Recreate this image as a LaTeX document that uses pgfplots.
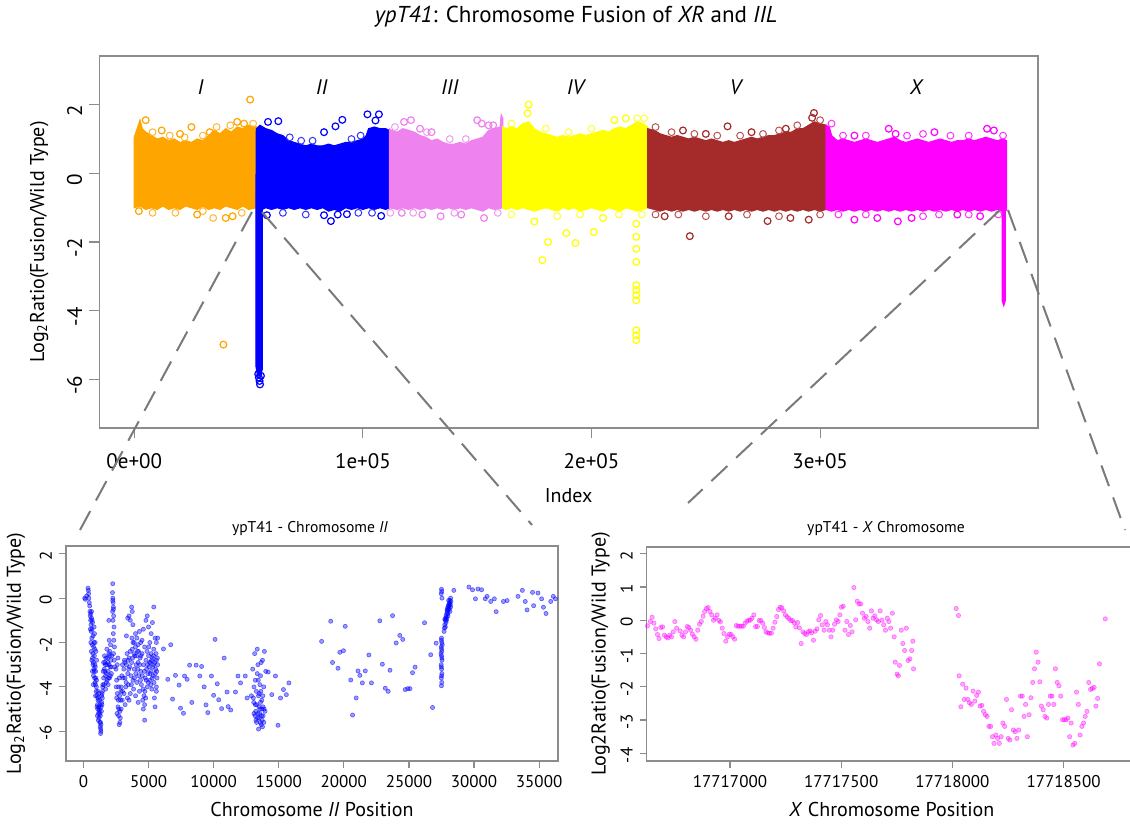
\documentclass[border=0pt]{standalone}
\usepackage{fontspec}
\setmainfont{PT Sans}
\usepackage{pgfplots}
\usepackage{pgfplotstable}
\pgfplotsset{compat=1.18}

\definecolor{rorange}{HTML}{FFA500}
\definecolor{rviolet}{HTML}{EE82EE}
\definecolor{rbrown}{HTML}{A52A2A}
\definecolor{ryellow}{HTML}{FFFF00}
\definecolor{rblue}{HTML}{0000FF}
\definecolor{rmagenta}{HTML}{FF00FF}
\definecolor{framegray}{HTML}{8C8C8C}
\definecolor{zoomgray}{HTML}{7A7A7A}

% chromosome II close-up (position, log2 ratio)
\pgfplotstableread{
x y
100 0.0
150 -0.05
250 0.1
350 0.45
380 0.35
400 0.2
420 0.0
450 -0.2
480 -0.35
500 -0.6
520 -0.8
550 -1.0
560 -0.7
580 -1.2
600 -1.5
620 -0.9
640 -1.8
650 -1.4
680 -2.1
700 -1.1
720 -2.5
740 -1.7
760 -2.9
780 -2.2
800 -3.2
820 -1.3
840 -2.6
860 -3.6
880 -3.0
900 -2.0
920 -3.9
940 -3.3
960 -2.4
980 -4.2
1000 -3.7
1010 -2.8
530 -1.4
570 -2.0
610 -2.4
650 -2.8
690 -3.3
730 -3.0
770 -3.5
810 -2.0
850 -1.6
890 -3.8
930 -4.4
620 -0.6
660 -1.0
700 -2.7
760 -3.9
830 -3.3
870 -2.3
910 -3.1
950 -3.6
990 -4.0
1050 -4.4
1080 -4.8
1100 -5.0
1120 -4.6
1150 -5.2
1180 -4.9
1200 -5.4
1230 -5.0
1250 -5.6
1280 -5.8
1300 -5.3
1320 -6.1
1350 -5.7
1380 -5.1
1400 -4.7
1430 -4.3
1450 -4.5
1480 -4.0
1100 -4.2
1260 -4.8
1330 -5.9
1040 -4.9
1070 -5.3
1110 -4.5
1140 -5.5
1170 -4.3
1210 -5.1
1240 -4.6
1270 -5.2
1310 -5.6
1340 -6.0
1360 -4.9
1390 -4.4
1420 -4.8
1460 -4.2
1490 -3.9
1550 -3.6
1600 -3.2
1650 -2.9
1700 -3.5
1750 -3.8
1800 -3.0
1850 -2.7
1900 -3.3
1950 -2.5
2000 -3.6
2050 -3.1
2100 -2.8
1700 -4.1
1800 -2.3
1900 -3.9
2000 -2.6
1950 -1.0
1650 -3.3
2150 -3.4
1550 -2.9
2080 -2.1
1980 -1.9
1520 -3.3
1580 -3.9
1620 -2.6
1680 -3.0
1720 -2.7
1780 -3.4
1820 -3.7
1880 -2.9
1920 -3.6
1970 -3.0
2020 -2.4
2070 -3.5
2120 -3.1
2180 -2.6
2250 0.65
2230 0.25
2260 0.0
2280 -0.2
2300 -0.4
2240 -0.6
2320 -0.8
2270 -1.0
2350 -1.3
2290 -1.6
2330 -1.9
2380 -2.2
2310 -2.5
2360 -2.8
2400 -3.1
2250 -0.1
2300 -0.5
2500 -3.2
2550 -3.7
2600 -4.3
2650 -4.9
2700 -5.3
2750 -5.7
2800 -5.1
2850 -4.6
2900 -4.0
2950 -3.5
3000 -3.0
2600 -3.0
2700 -4.0
2800 -5.6
2550 -4.5
2900 -5.0
2750 -3.6
2650 -2.7
2520 -4.0
2580 -5.2
2680 -4.6
2720 -5.0
2780 -4.4
2830 -5.4
2880 -4.2
2980 -4.6
3300 -1.7
3400 -0.9
3500 -0.8
3600 -1.0
3700 -0.4
3750 -0.6
3800 -1.2
3900 -2.0
4000 -1.6
4100 -1.8
4200 -2.1
4300 -1.5
4500 -1.9
4600 -1.4
4700 -2.2
4800 -1.0
4900 -0.8
5000 -1.3
5100 -2.0
5200 -1.6
5300 -1.1
5400 -0.4
5500 -1.8
5600 -2.0
5700 -1.8
3100 -3.2
3150 -2.8
3200 -3.6
3250 -4.0
3300 -3.0
3350 -2.5
3400 -3.4
3450 -3.9
3500 -2.7
3550 -3.1
3600 -4.3
3650 -3.5
3700 -2.9
3750 -2.3
3800 -3.7
3850 -4.1
3900 -3.2
3950 -2.6
4000 -2.2
4050 -3.0
4100 -3.8
4150 -2.4
4200 -2.9
4250 -3.5
4300 -4.2
4350 -2.7
4400 -3.3
4450 -3.9
4500 -2.5
4550 -4.6
4600 -5.0
4650 -4.4
4700 -5.5
4750 -3.6
4800 -2.8
4850 -3.2
4900 -4.0
4950 -3.4
5000 -2.6
5050 -3.1
5100 -3.7
5150 -2.9
5200 -3.3
5250 -4.1
5300 -2.7
5350 -3.5
5400 -3.0
5450 -4.5
5500 -4.9
5550 -3.2
5600 -2.8
5650 -3.6
5700 -3.0
5600 -4.2
5400 -2.3
5200 -2.5
4000 -4.4
3500 -4.6
3200 -4.8
3000 -4.2
4200 -4.7
4700 -4.8
5600 -4.0
3800 -2.0
4400 -2.0
3050 -3.6
3120 -4.3
3180 -2.9
3280 -3.8
3380 -4.5
3420 -2.8
3480 -3.2
3580 -2.4
3680 -3.9
3720 -1.8
3780 -2.7
3880 -2.5
3920 -3.6
4020 -3.4
4080 -2.6
4180 -3.2
4230 -2.4
4320 -3.0
4380 -3.7
4420 -2.6
4520 -3.5
4580 -4.1
4620 -3.0
4680 -3.3
4720 -4.2
4780 -4.5
4820 -3.7
4880 -2.4
4920 -3.0
4980 -3.8
5020 -2.2
5080 -2.9
5120 -3.4
5180 -3.9
5230 -2.8
5280 -3.6
5320 -3.1
5380 -2.6
5420 -3.8
5480 -2.9
5520 -3.4
5580 -2.5
5620 -3.3
5680 -2.7
6145 -2.29
6480 -3.66
6703 -2.10
6843 -4.55
7066 -3.48
7346 -3.92
7457 -4.96
7680 -5.19
7765 -3.51
7960 -3.66
8155 -3.02
8323 -4.70
8658 -3.02
8937 -3.51
9077 -3.08
9273 -4.00
9412 -4.81
9552 -5.16
9831 -3.51
10110 -1.86
9999 -4.38
10278 -3.86
10390 -4.58
10613 -4.98
10809 -2.70
11032 -4.23
11116 -4.89
11311 -5.04
11675 -4.23
11870 -3.51
12066 -3.82
12429 -3.51
12569 -4.50
14468 -4.35
14747 -3.51
14943 -5.73
15138 -4.50
15362 -4.12
15585 -4.35
15781 -3.82
14188 -3.33
13000 -3.2
13050 -4.5
13100 -5.2
13150 -2.5
13200 -3.7
13250 -5.5
13300 -4.8
13350 -2.3
13400 -3.0
13450 -5.9
13500 -4.3
13550 -5.0
13600 -3.5
13650 -5.7
13700 -4.6
13750 -2.8
13800 -5.3
13850 -4.0
13900 -2.4
13950 -5.1
13100 -4.0
13300 -5.6
13500 -5.4
13700 -5.0
13200 -4.8
13400 -5.2
13600 -4.7
13800 -4.9
13350 -3.4
13550 -3.9
14000 -3.3
13650 -2.9
12900 -4.4
13750 -5.8
13450 -4.4
13850 -5.6
13080 -4.7
13180 -5.3
13280 -4.2
13380 -5.4
13480 -4.9
13580 -5.6
13680 -5.3
13780 -4.4
13880 -5.0
13230 -5.1
13530 -5.2
13730 -5.5
13630 -4.2
13430 -3.7
18294 -1.95
18993 -1.04
19132 -2.90
19551 -3.16
19691 -2.44
19970 -2.37
20110 -1.27
20529 -3.69
20669 -5.27
20948 -4.50
21088 -3.28
21228 -3.48
21423 -3.82
21646 -3.28
21925 -2.56
22121 -3.82
22763 -1.02
22959 -2.98
23182 -4.06
23405 -4.20
23545 -3.25
23741 -0.79
24020 -2.02
24299 -1.68
24523 -1.86
24718 -4.12
24914 -4.08
25081 -4.08
25277 -3.36
25473 -3.11
26199 -1.11
26673 -2.55
26813 -4.93
27092 -2.03
27500 0.4
27520 0.3
27480 0.2
27540 0.0
27500 -1.8
27530 -2.0
27480 -2.2
27520 -2.4
27500 -2.6
27540 -2.8
27480 -3.0
27510 -3.2
27530 -3.4
27490 -3.6
27520 -3.8
27500 -3.95
27560 -2.1
27460 -2.5
27490 -1.9
27510 -2.3
27530 -2.7
27490 -3.1
27510 -3.5
27700 -1.5
27750 -1.2
27800 -1.0
27850 -0.8
27900 -0.9
27950 -0.6
28000 -0.5
28050 -0.3
28100 -0.2
28150 -0.1
28200 0.0
27800 -1.3
27900 -0.7
28000 -0.8
28100 -0.5
28200 -0.4
27750 -0.95
28050 -0.1
28150 -0.6
27850 -1.1
27950 -0.45
27730 -1.35
27830 -0.9
27930 -0.55
28030 -0.35
28130 -0.25
28230 -0.15
27880 -1.0
27980 -0.7
28080 -0.4
28180 -0.3
28450 0.35
29606 0.50
29885 0.38
30108 -0.03
30304 0.41
30583 0.38
30862 -0.03
31002 0.08
31281 -0.15
31560 -0.03
31700 -0.61
32259 -0.15
32538 -0.11
33376 0.08
33711 0.35
33934 -0.15
34074 -0.53
34493 0.26
34577 -0.34
34912 0.23
35191 -0.03
35331 -0.41
35527 -0.69
35890 -0.15
36085 0.08
36253 -0.03
}\chrII

% X chromosome close-up (position - 17716000, log2 ratio)
\pgfplotstableread{
x y
629 -0.17
642 -0.04
650 0.09
658 -0.09
666 -0.26
674 -0.43
681 -0.55
689 -0.22
697 -0.20
705 -0.45
713 -0.50
721 -0.53
729 -0.45
737 -0.50
745 -0.35
752 -0.04
760 -0.24
776 -0.32
784 -0.45
792 -0.50
800 -0.35
808 -0.19
815 -0.22
823 -0.30
831 -0.42
839 -0.50
847 -0.57
855 -0.30
863 -0.12
871 -0.04
879 0.12
886 0.26
894 0.35
902 0.38
910 0.26
918 0.16
926 0.00
934 0.06
942 0.16
950 -0.01
957 -0.05
965 -0.24
973 -0.40
981 -0.63
989 -0.50
997 -0.42
1005 -0.43
1013 -0.50
1021 -0.57
1028 -0.16
1036 -0.18
1044 -0.18
1052 -0.18
1060 -0.18
1068 -0.09
1076 -0.03
1084 0.00
1091 0.00
1099 0.06
1107 0.16
1115 -0.19
1123 -0.19
1131 -0.01
1139 -0.01
1147 -0.09
1155 -0.22
1162 -0.35
1170 -0.38
1178 -0.39
1186 -0.39
1194 -0.24
1202 -0.06
1210 0.11
1218 0.32
1226 0.39
1233 0.37
1241 0.28
1249 0.16
1257 0.10
1265 0.05
1273 -0.01
1281 -0.01
1289 -0.08
1296 -0.20
1304 -0.07
1312 -0.23
1320 -0.70
1328 -0.35
1336 -0.40
1344 -0.43
1352 -0.35
1360 -0.32
1367 -0.38
1375 -0.60
1383 -0.33
1391 -0.26
1399 0.01
1407 0.14
1415 -0.14
1423 -0.30
1431 -0.04
1438 -0.14
1446 -0.30
1454 -0.50
1462 -0.30
1470 -0.12
1478 0.01
1486 -0.04
1494 0.16
1501 0.39
1509 0.42
1517 -0.30
1525 -0.04
1533 -0.43
1541 -0.16
1549 -0.35
1557 0.98
1565 0.01
1572 0.57
1580 0.49
1588 0.49
1596 0.21
1604 0.06
1612 0.11
1620 -0.04
1628 -0.24
1636 0.28
1643 0.06
1651 0.13
1659 0.01
1667 -0.04
1675 0.28
1683 0.00
1691 -0.14
1699 -0.30
1707 0.06
1714 -0.04
1722 -0.24
1730 0.21
1738 -0.50
1743 -1.26
1751 -1.62
1757 -1.67
1762 -1.36
1770 -0.30
1777 -0.70
1785 -0.91
1793 -0.24
1801 -1.21
1809 -1.16
1817 -0.91
1825 -1.46
1822 -0.63
2017 0.35
2027 0.14
2030 -1.67
2038 -2.60
2046 -1.92
2053 -2.38
2061 -2.04
2069 -2.38
2077 -2.48
2085 -2.53
2093 -2.13
2101 -2.43
2109 -2.26
2117 -2.16
2124 -2.58
2132 -2.56
2140 -2.74
2148 -2.84
2156 -2.89
2164 -3.19
2172 -3.19
2180 -3.50
2187 -3.70
2195 -3.45
2203 -3.55
2211 -3.70
2219 -3.50
2227 -3.09
2235 -3.19
2243 -2.38
2251 -3.55
2258 -3.60
2266 -2.69
2274 -3.30
2282 -3.35
2290 -3.55
2298 -3.30
2306 -2.28
2314 -2.28
2322 -2.89
2329 -2.53
2337 -3.50
2345 -2.84
2353 -2.33
2361 -1.87
2369 -1.46
2377 -0.96
2385 -1.26
2393 -1.85
2400 -2.58
2408 -2.69
2416 -2.89
2424 -2.94
2432 -2.53
2440 -2.28
2448 -2.28
2456 -2.53
2463 -1.46
2471 -1.87
2479 -1.97
2487 -2.28
2495 -2.99
2503 -2.99
2511 -2.99
2519 -2.94
2527 -3.50
2534 -3.09
2542 -3.75
2550 -3.70
2558 -2.16
2566 -2.53
2574 -3.45
2582 -3.19
2590 -3.09
2597 -2.89
2605 -2.74
2613 -1.87
2621 -2.08
2629 -2.05
2637 -2.02
2645 -2.58
2653 -2.35
2661 -1.31
2687 0.04
}\chrX

\pgfplotsset{
  rstyle/.style={
    scale only axis, anchor=south west,
    axis line style={framegray, line width=0.6pt},
    tick style={framegray, line width=0.6pt},
    tick align=outside, tick pos=left, major tick length=3.5pt,
    scaled ticks=false,
    /pgf/number format/assume math mode=true,
    /pgf/number format/1000 sep={},
    yticklabel style={rotate=90, anchor=south},
  },
  outl/.style={only marks, mark=o, mark size=1.7pt, line width=0.6pt},
  edge/.style={only marks, mark=o, mark size=1.7pt, line width=0.5pt},
}

\begin{document}
\begin{tikzpicture}
\useasboundingbox (0,0) rectangle (565pt,412pt);

% ---------------- genome-wide plot ----------------
\begin{axis}[rstyle,
  at={(49.65pt,198pt)}, width=469.35pt, height=186pt,
  axis line style={framegray, line width=0.8pt},
  xmin=-15300, xmax=395300, ymin=-7.42, ymax=3.42,
  xtick={0,100000,200000,300000},
  xticklabels={0e+00,1e+05,2e+05,3e+05},
  ytick={-6,-4,-2,0,2},
  major tick length=5pt,
  tick label style={font=\fontsize{10.5}{12}\selectfont},
  xticklabel style={yshift=-4pt},
  yticklabel style={xshift=-3pt},
  xlabel={Index}, ylabel={Log\textsubscript{2}Ratio(Fusion/Wild Type)},
  label style={font=\fontsize{11}{13}\selectfont},
  every axis x label/.style={at={(axis description cs:0.5,0)}, anchor=center, yshift=-34pt},
  every axis y label/.style={at={(axis description cs:-0.064,0.5)}, anchor=center, rotate=90},
]
\addplot[fill=rorange, draw=rorange, line width=0.6pt] coordinates {
(0,1.05) (1500,1.35) (2500,1.55) (3500,1.3) (5000,1.2) (7500,1.1) (10000,1.0) (12500,1.05) (15000,0.95) (17500,1.0) (20000,0.9) (22500,0.95) (25000,0.9) (27500,1.0) (30000,0.95) (32500,1.1) (35000,1.25) (37500,1.15) (40000,1.3) (42500,1.2) (45000,1.35) (47500,1.3) (50000,1.4) (53600,1.35)
(53600,-1.0) (50000,-1.05) (47500,-0.95) (45000,-1.05) (42500,-1.0) (40000,-0.95) (37500,-1.05) (35000,-1.0) (32500,-1.05) (30000,-0.95) (27500,-1.05) (25000,-1.0) (22500,-0.95) (20000,-1.05) (17500,-1.0) (15000,-1.05) (12500,-0.95) (10000,-1.05) (7500,-1.0) (5000,-1.05) (2500,-0.95) (0,-1.0)} -- cycle;
\addplot[edge, rorange!80] coordinates {(8000,1.2) (15500,1.1) (22000,1.05) (30000,1.1) (36000,1.35) (42000,1.4) (52000,1.45) (8000,-1.15) (18000,-1.15) (30000,-1.1) (47000,-1.15) (34500,-1.3)};
\addplot[outl, rorange] coordinates {(50700,2.15) (39000,-4.99) (43000,-1.25) (40000,-1.3) (27500,-1.2) (2000,-1.1) (5000,1.55) (48000,1.45) (45000,1.5) (25000,1.35) (33000,1.2) (12000,1.25) (20000,1.15)};

\addplot[fill=rblue, draw=rblue, line width=0.6pt] coordinates {
(53400,1.3) (55000,1.4) (57500,1.3) (60000,1.25) (62500,1.15) (65000,1.1) (67500,0.95) (70000,0.9) (72500,0.85) (75000,0.8) (77500,0.85) (80000,0.8) (82500,0.8) (85000,0.85) (87500,0.8) (90000,0.85) (92500,0.9) (95000,0.9) (97500,0.95) (100000,1.0) (101500,1.1) (102500,1.3) (105000,1.35) (107500,1.3) (110000,1.3) (111600,1.25)
(111600,-1.0) (110000,-1.05) (107500,-1.0) (105000,-1.05) (102500,-1.0) (100000,-1.05) (97500,-1.0) (95000,-1.05) (92500,-1.0) (90000,-1.1) (87500,-1.05) (85000,-1.1) (82500,-1.0) (80000,-1.05) (77500,-1.0) (75000,-1.05) (72500,-1.0) (70000,-1.05) (67500,-1.0) (65000,-1.05) (62500,-1.0) (60000,-1.05) (57500,-1.0) (56000,-1.05)
(56000,-5.7) (55400,-5.85) (54600,-5.9) (53800,-5.85) (53200,-5.6) (53200,-1.0)} -- cycle;
\addplot[edge, rblue!80] coordinates {(68000,1.05) (73000,0.95) (78000,0.95) (95000,1.0) (99000,1.1) (65000,-1.15) (75000,-1.2) (98000,-1.15) (104000,-1.15)};
\addplot[outl, rblue] coordinates {(91000,1.56) (88000,1.37) (83000,1.2) (63000,1.52) (58500,1.5) (102000,1.72) (107000,1.72) (105500,1.54) (86000,-1.39) (83000,-1.22) (89000,-1.2) (93000,-1.19) (108000,-1.24) (58000,-1.22) (54500,-5.95) (54800,-6.05) (55000,-6.15) (55400,-5.9) (54200,-5.85)};

\addplot[fill=rviolet, draw=rviolet, line width=0.6pt] coordinates {
(111600,1.3) (112500,1.25) (115000,1.2) (117500,1.3) (120000,1.25) (122500,1.2) (125000,1.1) (127500,1.05) (130000,0.95) (132500,1.0) (135000,0.9) (137500,0.85) (140000,0.85) (142500,0.9) (145000,0.85) (147500,0.95) (150000,1.0) (152500,1.05) (155000,1.25) (157500,1.3) (160000,1.35) (160500,1.7) (161200,1.6)
(161200,-1.0) (157500,-1.05) (155000,-1.0) (152500,-1.1) (150000,-1.05) (147500,-1.0) (145000,-1.05) (142500,-1.0) (140000,-1.05) (137500,-1.0) (135000,-1.05) (132500,-1.0) (130000,-1.05) (127500,-1.0) (125000,-1.05) (122500,-1.0) (120000,-1.05) (117500,-1.0) (115000,-1.05) (111600,-1.0)} -- cycle;
\addplot[edge, rviolet!80] coordinates {(114000,1.35) (128000,1.2) (138000,1.0) (145000,1.0) (112000,-1.15) (122000,-1.15) (140000,-1.15) (159000,-1.15)};
\addplot[outl, rviolet] coordinates {(118000,1.5) (121000,1.55) (125000,1.3) (130000,1.2) (150000,1.55) (152000,1.45) (155000,1.4) (157000,1.4) (153000,-1.3) (143000,-1.2) (134000,-1.25) (126000,-1.2) (117000,-1.15)};

\addplot[fill=ryellow, draw=ryellow, line width=0.6pt] coordinates {
(161200,1.35) (162500,1.3) (165000,1.35) (167500,1.3) (170000,1.45) (172500,1.5) (175000,1.3) (177500,1.2) (180000,1.15) (182500,1.1) (185000,1.05) (187500,1.1) (190000,1.05) (192500,1.1) (195000,1.15) (197500,1.1) (200000,1.15) (202500,1.2) (205000,1.25) (207500,1.2) (210000,1.3) (212500,1.35) (215000,1.3) (217500,1.4) (220000,1.5) (222500,1.45) (224600,1.35)
(224600,-1.0) (222500,-1.05) (220000,-1.1) (217500,-1.05) (215000,-1.0) (212500,-1.1) (210000,-1.05) (207500,-1.0) (205000,-1.1) (202500,-1.05) (200000,-1.0) (197500,-1.05) (195000,-1.1) (192500,-1.0) (190000,-1.05) (187500,-1.0) (185000,-1.1) (182500,-1.05) (180000,-1.0) (177500,-1.05) (175000,-1.1) (172500,-1.05) (170000,-1.0) (167500,-1.05) (165000,-1.0) (162500,-1.05) (161200,-1.0)} -- cycle;
\addplot[edge, ryellow!80] coordinates {(165000,1.45) (180000,1.3) (190000,1.2) (200000,1.3) (220000,1.6) (223000,1.6) (165000,-1.2) (185000,-1.25) (195000,-1.2) (212000,-1.2) (222000,-1.2)};
\addplot[outl, ryellow] coordinates {(172500,2.0) (172000,1.75) (181000,-2.0) (189000,-1.74) (178500,-2.53) (193000,-2.03) (201000,-1.71) (219600,-1.47) (219600,-1.85) (219600,-2.2) (219600,-2.58) (219600,-3.26) (219600,-3.4) (219600,-3.55) (219600,-3.7) (219600,-4.57) (219600,-4.72) (219600,-4.86) (175000,-1.4) (205000,-1.3) (210000,1.55) (215000,1.6)};

\addplot[fill=rbrown, draw=rbrown, line width=0.6pt] coordinates {
(224600,1.3) (227500,1.25) (230000,1.15) (232500,1.1) (235000,1.05) (237500,1.1) (240000,1.05) (242500,1.0) (245000,1.05) (247500,1.0) (250000,0.95) (252500,1.0) (255000,0.95) (257500,0.9) (260000,0.95) (262500,0.9) (265000,0.95) (267500,1.0) (270000,1.05) (272500,1.0) (275000,1.05) (277500,1.1) (280000,1.1) (282500,1.15) (285000,1.2) (287500,1.2) (290000,1.3) (292500,1.3) (295000,1.4) (297500,1.5) (300000,1.45) (302600,1.4)
(302600,-1.05) (300000,-1.1) (297500,-1.05) (295000,-1.1) (292500,-1.05) (290000,-1.1) (287500,-1.05) (285000,-1.1) (282500,-1.05) (280000,-1.1) (277500,-1.05) (275000,-1.1) (272500,-1.05) (270000,-1.1) (267500,-1.05) (265000,-1.1) (262500,-1.05) (260000,-1.1) (257500,-1.05) (255000,-1.1) (252500,-1.05) (250000,-1.1) (247500,-1.05) (245000,-1.1) (242500,-1.05) (240000,-1.1) (237500,-1.05) (235000,-1.1) (232500,-1.05) (230000,-1.1) (227500,-1.05) (224600,-1.0)} -- cycle;
\addplot[edge, rbrown!80] coordinates {(228000,1.35) (235000,1.2) (245000,1.15) (255000,1.1) (265000,1.1) (275000,1.15) (282000,1.25) (290000,1.4) (300000,1.55) (228000,-1.2) (238000,-1.2) (250000,-1.25) (268000,-1.2) (282000,-1.25) (300000,-1.2)};
\addplot[outl, rbrown] coordinates {(259500,1.37) (297300,1.76) (296500,1.62) (277000,-1.39) (243000,-1.83) (232000,-1.25) (260000,-1.25) (287000,-1.3) (295000,-1.35) (240000,1.25) (250000,1.15) (270000,1.2) (285000,1.3)};

\addplot[fill=rmagenta, draw=rmagenta, line width=0.6pt] coordinates {
(302600,1.4) (304000,1.35) (305000,1.1) (307500,0.95) (310000,1.0) (312500,0.95) (315000,0.9) (317500,0.95) (320000,1.0) (322500,0.95) (325000,0.9) (327500,0.95) (330000,1.0) (332500,1.05) (335000,0.95) (337500,0.9) (340000,0.95) (342500,1.0) (345000,0.95) (347500,0.9) (350000,0.95) (352500,1.0) (355000,0.95) (357500,0.9) (360000,0.95) (362500,0.95) (365000,1.0) (367500,0.95) (370000,1.0) (372500,1.05) (375000,1.0) (377500,0.95) (380000,1.0) (381500,0.95)
(381500,-1.05) (381000,-1.0) (381000,-3.7) (380300,-3.85) (379600,-3.7) (379600,-1.1) (377500,-1.05) (375000,-1.1) (372500,-1.05) (370000,-1.1) (367500,-1.05) (365000,-1.1) (362500,-1.05) (360000,-1.1) (357500,-1.05) (355000,-1.1) (352500,-1.05) (350000,-1.1) (347500,-1.05) (345000,-1.1) (342500,-1.05) (340000,-1.1) (337500,-1.05) (335000,-1.1) (332500,-1.05) (330000,-1.1) (327500,-1.05) (325000,-1.1) (322500,-1.05) (320000,-1.1) (317500,-1.05) (315000,-1.1) (312500,-1.05) (310000,-1.1) (307500,-1.05) (305000,-1.1) (302600,-1.05)} -- cycle;
\addplot[edge, rmagenta!80] coordinates {(305000,1.45) (310000,1.1) (320000,1.1) (338000,1.1) (345000,1.15) (357000,1.1) (365000,1.1) (380000,1.1) (308000,-1.2) (320000,-1.2) (345000,-1.25) (352000,-1.2) (365000,-1.2) (378000,-1.2)};
\addplot[outl, rmagenta] coordinates {(330000,1.3) (333000,1.15) (350000,1.2) (373000,1.3) (376000,1.25) (315000,1.1) (315000,-1.35) (325000,-1.3) (334000,-1.4) (340000,-1.3) (370000,-1.25) (360000,-1.2)};

\begin{scope}[font=\fontsize{10.5}{12}\selectfont\itshape]
\node at (axis cs:29000,2.5) {I};
\node at (axis cs:82000,2.5) {II};
\node at (axis cs:138000,2.5) {III};
\node at (axis cs:193000,2.5) {IV};
\node at (axis cs:263000,2.5) {V};
\node at (axis cs:342000,2.5) {X};
\end{scope}
\end{axis}

% ---------------- chromosome II close-up ----------------
\begin{axis}[rstyle,
  at={(33pt,31.5pt)}, width=246pt, height=107.5pt,
  xmin=-1340, xmax=36450, ymin=-7.34, ymax=2.35,
  xtick={0,5000,...,35000}, ytick={-6,-4,-2,0,2},
  tick label style={font=\fontsize{8.5}{10}\selectfont},
  yticklabel style={xshift=-1pt},
  xlabel={Chromosome \textit{II} Position},
  ylabel={Log\textsubscript{2}Ratio(Fusion/Wild Type)},
  label style={font=\fontsize{8.3}{10}\selectfont},
  every axis x label/.style={at={(axis description cs:0.5,0)}, anchor=center, yshift=-24.5pt},
  every axis y label/.style={at={(axis description cs:-0.1016,0.5)}, anchor=center, rotate=90},
]
\addplot[only marks, mark=*, mark size=1.05pt, rblue,
  mark options={fill opacity=0.4, draw opacity=0.55, line width=0.3pt}] table {\chrII};
\end{axis}

% ---------------- X chromosome close-up ----------------
\begin{axis}[rstyle,
  at={(323.4pt,31.5pt)}, width=245pt, height=107pt,
  xmin=626, xmax=2829, ymin=-4.23, ymax=2.2,
  xtick={1000,1500,2000,2500},
  xticklabels={17717000,17717500,17718000,17718500},
  ytick={-4,-3,-2,-1,0,1,2},
  tick label style={font=\fontsize{8.5}{10}\selectfont},
  yticklabel style={xshift=-1pt},
  xlabel={\textit{X} Chromosome Position},
  ylabel={Log2Ratio(Fusion/Wild Type)},
  label style={font=\fontsize{8.3}{10}\selectfont},
  every axis x label/.style={at={(axis description cs:0.5,0)}, anchor=center, yshift=-24.5pt},
  every axis y label/.style={at={(axis description cs:-0.094,0.5)}, anchor=center, rotate=90},
]
\addplot[only marks, mark=*, mark size=1.1pt, rmagenta,
  mark options={fill opacity=0.35, draw opacity=0.45, line width=0.3pt}] table {\chrX};
\end{axis}

% titles
\node[font=\fontsize{11.5}{13}\selectfont] at (288pt,403.5pt) {\textit{ypT41}: Chromosome Fusion of \textit{XR} and \textit{IIL}};
\node[font=\fontsize{7.8}{9}\selectfont] at (155pt,147.5pt) {ypT41 - Chromosome \textit{II}};
\node[font=\fontsize{7.8}{9}\selectfont] at (443pt,147.5pt) {ypT41 - \textit{X} Chromosome};

% zoom guides
\begin{scope}[zoomgray, line width=1pt, dash pattern=on 11pt off 6pt]
\draw (126pt,306pt) -- (40pt,147pt);
\draw (131pt,306pt) -- (266pt,149.5pt);
\draw (500pt,307pt) -- (344pt,160.5pt);
\draw (504pt,307pt) -- (562.5pt,147pt);
\end{scope}
\end{tikzpicture}
\end{document}
